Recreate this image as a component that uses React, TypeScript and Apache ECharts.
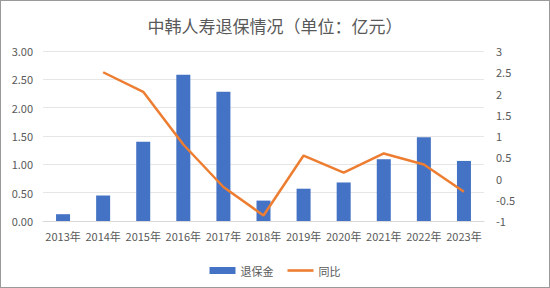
import React, { useEffect, useRef } from "react";
import * as echarts from "echarts";

const title = "中韩人寿退保情况（单位：亿元）";
const years = ["2013年", "2014年", "2015年", "2016年", "2017年", "2018年", "2019年", "2020年", "2021年", "2022年", "2023年"];
const surrender = [0.12, 0.45, 1.4, 2.58, 2.28, 0.36, 0.57, 0.68, 1.09, 1.48, 1.06];
const yoy = [null, 2.5, 2.04, 0.8, -0.2, -0.87, 0.54, 0.14, 0.59, 0.33, -0.31];
const barName = "退保金";
const lineName = "同比";

const FONT = "'Noto Sans CJK SC', 'Noto Sans', sans-serif";
const GRAY = "#595959";

export default function App() {
  const ref = useRef<HTMLDivElement>(null);
  useEffect(() => {
    const chart = echarts.init(ref.current!, undefined, { renderer: "svg" });
    chart.setOption({
      animation: false,
      backgroundColor: "#ffffff",
      textStyle: { fontFamily: FONT },
      title: {
        text: title,
        left: "center",
        top: 11,
        textStyle: { fontFamily: FONT, fontSize: 17, fontWeight: "normal", color: GRAY },
      },
      legend: {
        bottom: 6,
        left: "center",
        itemWidth: 26,
        itemHeight: 7,
        itemGap: 14,
        textStyle: { fontFamily: FONT, fontSize: 11, color: GRAY },
        data: [
          { name: barName, icon: "rect" },
          {
            name: lineName,
            icon: "path://M0,0L0,0M0,2.2L26,2.2L26,4.8L0,4.8ZM26,7L26,7",
            itemStyle: { color: "#ED7D31" },
          },
        ],
      },
      grid: { left: 42, right: 65, top: 50, bottom: 66, containLabel: false },
      xAxis: {
        type: "category",
        data: years,
        axisTick: { show: false },
        axisLine: { show: true, lineStyle: { color: "#d9d9d9" } },
        axisLabel: { color: GRAY, fontSize: 11, fontFamily: FONT, margin: 9, interval: 0 },
      },
      yAxis: [
        {
          type: "value",
          min: 0,
          max: 3,
          interval: 0.5,
          axisLabel: { color: GRAY, fontSize: 11, fontFamily: FONT, formatter: (v: number) => v.toFixed(2), margin: 10 },
          splitLine: { lineStyle: { color: "#e6e6e6" } },
          axisLine: { show: false },
          axisTick: { show: false },
        },
        {
          type: "value",
          min: -1,
          max: 3,
          interval: 0.5,
          axisLabel: { color: GRAY, fontSize: 11, fontFamily: FONT, margin: 12 },
          splitLine: { show: false },
          axisLine: { show: false },
          axisTick: { show: false },
        },
      ],
      series: [
        {
          name: barName,
          type: "bar",
          data: surrender,
          barWidth: 14,
          itemStyle: { color: "#4472C4" },
          yAxisIndex: 0,
        },
        {
          name: lineName,
          type: "line",
          data: yoy,
          yAxisIndex: 1,
          symbol: "none",
          lineStyle: { color: "#ED7D31", width: 2.5 },
          itemStyle: { color: "#ED7D31" },
          connectNulls: false,
        },
      ],
    });
    return () => chart.dispose();
  }, []);
  return (
    <div
      ref={ref}
      style={{ position: "fixed", left: 0, top: 0, width: 550, height: 288, boxSizing: "border-box", border: "1px solid #9a9a9a" }}
    />
  );
}
